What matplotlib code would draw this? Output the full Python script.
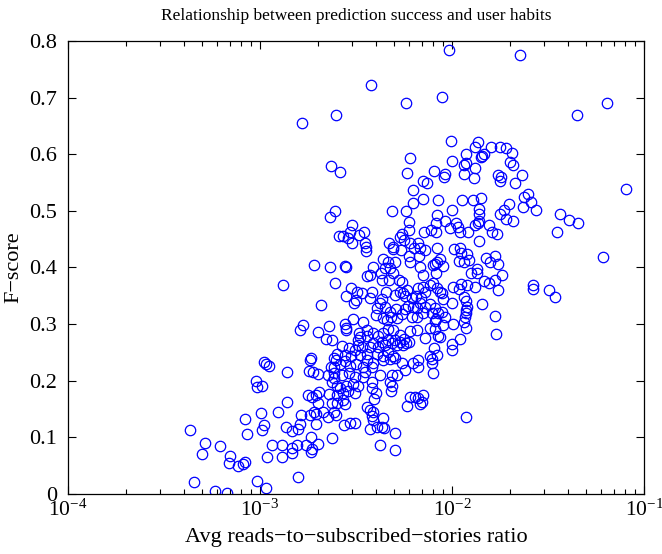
import matplotlib
matplotlib.use("Agg")
import matplotlib.pyplot as plt
from matplotlib.ticker import LogLocator, NullFormatter

plt.rcParams['font.family'] = ['Liberation Serif', 'DejaVu Serif']
plt.rcParams['mathtext.fontset'] = 'stix'

# avg reads-to-subscribed-stories ratio (x) and F-score (y)
ratio_low = [4.31e-4, 5.15e-4, 6.21e-4, 4.99e-4, 7.00e-4, 6.87e-4, 7.68e-4, 4.53e-4, 5.81e-4, 6.73e-4,
             1.66e-3, 2.49e-3, 2.35e-3, 2.61e-3, 2.46e-3, 2.32e-3, 2.59e-3]
fscore_low = [0.113, 0.090, 0.084, 0.071, 0.067, 0.055, 0.050, 0.022, 0.005, 0.001,
              0.655, 0.670, 0.580, 0.569, 0.499, 0.489, 0.456]

ratio_mid = [1.91e-3, 2.31e-3, 1.31e-3, 2.47e-3, 2.08e-3, 1.68e-3, 1.61e-3, 2.00e-3, 2.30e-3, 2.20e-3,
             1.05e-3, 1.11e-3, 1.07e-3, 1.38e-3, 1.85e-3, 1.82e-3, 1.81e-3, 1.89e-3, 2.00e-3, 2.27e-3,
             2.42e-3, 2.49e-3, 2.44e-3, 9.55e-4, 9.60e-4, 1.03e-3, 1.39e-3, 1.78e-3, 1.87e-3, 1.96e-3,
             2.04e-3, 2.00e-3, 1.91e-3, 2.29e-3, 2.36e-3, 2.51e-3, 2.14e-3, 2.27e-3, 2.49e-3, 1.01e-3,
             1.24e-3, 8.34e-4, 1.05e-3, 1.02e-3, 8.60e-4, 1.36e-3, 1.47e-3, 1.58e-3, 1.62e-3, 1.64e-3,
             1.83e-3, 1.95e-3, 1.96e-3, 2.38e-3, 1.84e-3, 1.16e-3, 1.30e-3, 1.47e-3, 1.56e-3, 1.73e-3,
             1.85e-3, 1.87e-3, 2.00e-3, 1.09e-3, 1.30e-3, 1.47e-3, 8.20e-4, 8.40e-4, 9.70e-4, 1.07e-3,
             1.57e-3]
fscore_mid = [0.405, 0.400, 0.369, 0.372, 0.333, 0.298, 0.289, 0.286, 0.296, 0.273,
              0.233, 0.226, 0.230, 0.216, 0.240, 0.236, 0.217, 0.216, 0.212, 0.210,
              0.225, 0.237, 0.204, 0.200, 0.189, 0.190, 0.163, 0.174, 0.172, 0.175,
              0.181, 0.160, 0.145, 0.177, 0.160, 0.175, 0.145, 0.136, 0.140, 0.143,
              0.144, 0.132, 0.121, 0.113, 0.106, 0.119, 0.112, 0.114, 0.124, 0.140,
              0.139, 0.124, 0.141, 0.0995, 0.101, 0.0866, 0.086, 0.0807, 0.0866, 0.0866,
              0.0747, 0.079, 0.0883, 0.0648, 0.0654, 0.073, 0.053, 0.0565, 0.0224, 0.010,
              0.030]

ratio_upper = [3.78e-3, 5.76e-3, 8.87e-3, 6.07e-3, 5.80e-3, 8.09e-3, 7.08e-3, 7.40e-3, 6.26e-3, 8.50e-3,
               6.28e-3, 7.10e-3, 4.89e-3, 5.73e-3, 6.00e-3, 5.98e-3, 8.40e-3, 3.00e-3, 2.95e-3, 2.72e-3,
               2.87e-3, 3.00e-3, 3.26e-3, 3.50e-3, 3.52e-3, 3.58e-3, 3.56e-3, 4.68e-3, 4.95e-3, 5.47e-3,
               5.38e-3, 5.64e-3, 6.04e-3, 6.33e-3, 6.65e-3, 6.80e-3, 7.20e-3, 5.42e-3, 4.95e-3, 7.12e-3,
               7.80e-3, 8.27e-3, 8.35e-3, 6.00e-3, 6.70e-3, 4.39e-3, 4.67e-3, 5.05e-3, 2.82e-3, 3.88e-3,
               4.48e-3, 6.04e-3, 8.00e-3, 8.35e-3, 6.80e-3]
fscore_upper = [0.723, 0.690, 0.701, 0.594, 0.567, 0.571, 0.553, 0.550, 0.537, 0.519,
                0.514, 0.521, 0.499, 0.500, 0.481, 0.466, 0.493, 0.475, 0.463, 0.456,
                0.452, 0.444, 0.458, 0.463, 0.443, 0.436, 0.429, 0.444, 0.436, 0.460,
                0.454, 0.448, 0.444, 0.435, 0.444, 0.434, 0.431, 0.431, 0.432, 0.463,
                0.467, 0.462, 0.435, 0.420, 0.420, 0.415, 0.409, 0.409, 0.401, 0.401,
                0.399, 0.410, 0.405, 0.410, 0.400]

ratio_high = [9.63e-3, 2.27e-2, 9.90e-3, 9.15e-3, 9.10e-3, 1.00e-2, 1.18e-2, 1.16e-2, 1.19e-2, 1.16e-2,
              1.31e-2, 1.30e-2, 1.32e-2, 1.37e-2, 1.44e-2, 1.47e-2, 1.41e-2, 1.60e-2, 1.78e-2, 1.90e-2,
              2.05e-2, 2.00e-2, 2.09e-2, 1.73e-2, 1.79e-2, 1.78e-2, 2.32e-2, 2.12e-2, 1.13e-2, 1.28e-2,
              1.41e-2, 1.00e-2, 1.38e-2, 1.38e-2, 1.36e-2, 1.99e-2, 2.36e-2, 2.49e-2, 2.58e-2, 2.35e-2,
              2.73e-2, 1.78e-2, 1.86e-2, 1.91e-2, 2.09e-2, 8.27e-3, 9.20e-3, 1.05e-2, 1.08e-2, 9.80e-3,
              1.10e-2, 1.21e-2, 1.32e-2, 1.38e-2, 1.56e-2, 1.61e-2, 1.71e-2, 1.38e-2, 1.02e-2, 1.10e-2,
              1.11e-2, 1.20e-2, 1.23e-2, 1.09e-2, 1.15e-2, 1.51e-2, 1.67e-2, 1.73e-2, 1.57e-2, 8.67e-3,
              8.15e-3, 9.00e-3, 1.35e-2,
              1.26e-2, 1.35e-2, 1.01e-2, 1.11e-2, 1.09e-2, 1.20e-2, 1.32e-2, 1.47e-2, 1.56e-2, 1.67e-2,
              1.82e-2, 1.73e-2, 8.67e-3, 8.90e-3, 8.95e-3, 9.95e-3, 1.15e-2, 1.19e-2, 1.20e-2, 1.18e-2,
              1.44e-2, 1.67e-2, 1.70e-2, 2.65e-2, 2.63e-2, 8.90e-3, 9.20e-3, 8.15e-3, 8.95e-3, 1.01e-2,
              1.15e-2, 1.17e-2, 1.19e-2, 1.18e-2, 8.15e-3, 8.67e-3, 1.10e-2, 9.95e-3, 9.95e-3, 8.08e-3,
              7.90e-3, 1.18e-2,
              6.38e-2, 4.48e-2, 8.05e-2, 3.64e-2, 4.08e-2, 4.55e-2, 3.52e-2, 6.10e-2, 3.20e-2, 3.42e-2]
fscore_high = [0.784, 0.776, 0.624, 0.566, 0.559, 0.588, 0.601, 0.581, 0.584, 0.566,
               0.575, 0.558, 0.613, 0.621, 0.597, 0.600, 0.595, 0.612, 0.613, 0.611,
               0.602, 0.587, 0.581, 0.564, 0.559, 0.552, 0.564, 0.549, 0.519, 0.519,
               0.522, 0.502, 0.503, 0.494, 0.479, 0.513, 0.525, 0.530, 0.515, 0.506,
               0.501, 0.495, 0.501, 0.485, 0.482, 0.478, 0.482, 0.479, 0.472, 0.469,
               0.462, 0.462, 0.475, 0.482, 0.475, 0.463, 0.459, 0.446, 0.432, 0.435,
               0.426, 0.423, 0.413, 0.412, 0.410, 0.417, 0.420, 0.407, 0.409, 0.415,
               0.407, 0.403, 0.397,
               0.391, 0.391, 0.365, 0.371, 0.362, 0.369, 0.365, 0.377, 0.373, 0.378,
               0.387, 0.360, 0.357, 0.355, 0.344, 0.338, 0.348, 0.340, 0.331, 0.325,
               0.336, 0.314, 0.283, 0.369, 0.362, 0.322, 0.312, 0.306, 0.299, 0.300,
               0.304, 0.312, 0.320, 0.293, 0.291, 0.277, 0.273, 0.265, 0.254, 0.257,
               0.238, 0.136,
               0.691, 0.669, 0.539, 0.494, 0.484, 0.478, 0.462, 0.418, 0.361, 0.348]

ratio_dense = [2.76e-3, 3.60e-3, 3.72e-3, 4.25e-3, 4.76e-3, 4.95e-3, 4.30e-3, 4.72e-3, 5.27e-3, 5.49e-3,
               7.09e-3, 8.27e-3, 7.99e-3, 2.98e-3, 2.81e-3, 3.20e-3, 3.40e-3, 3.09e-3, 3.17e-3, 3.72e-3,
               3.82e-3, 4.30e-3, 4.53e-3, 4.22e-3, 5.05e-3, 5.38e-3, 5.56e-3, 5.70e-3, 6.16e-3, 5.81e-3,
               6.67e-3, 7.03e-3, 7.24e-3, 7.69e-3, 8.34e-3, 6.86e-3, 6.50e-3, 4.06e-3, 4.48e-3, 4.76e-3,
               5.12e-3, 4.80e-3, 5.16e-3, 5.49e-3, 5.70e-3, 5.92e-3, 6.24e-3, 6.60e-3, 6.80e-3, 7.24e-3,
               7.69e-3, 8.16e-3, 8.50e-3, 8.27e-3, 7.84e-3, 7.03e-3, 6.60e-3, 6.16e-3, 4.39e-3, 4.57e-3,
               4.03e-3, 2.76e-3, 2.81e-3, 2.79e-3, 3.06e-3, 3.46e-3, 3.63e-3, 3.27e-3, 3.30e-3, 3.23e-3,
               3.60e-3, 3.87e-3, 4.14e-3, 4.39e-3, 4.67e-3, 4.95e-3, 5.38e-3, 5.60e-3, 6.04e-3, 6.60e-3,
               7.24e-3, 7.69e-3, 8.50e-3, 2.36e-3, 2.66e-3, 2.91e-3, 3.13e-3, 3.23e-3, 3.40e-3, 3.75e-3,
               3.90e-3, 4.14e-3, 4.30e-3, 4.48e-3, 4.67e-3, 4.85e-3, 5.05e-3, 5.16e-3, 5.38e-3, 5.56e-3,
               5.77e-3, 5.99e-3, 4.67e-3, 4.95e-3, 4.39e-3, 4.06e-3, 3.60e-3, 3.33e-3, 2.98e-3, 2.76e-3,
               2.51e-3, 2.42e-3, 6.67e-3, 7.69e-3, 8.34e-3, 2.33e-3, 2.61e-3, 2.76e-3, 2.94e-3, 3.17e-3,
               3.46e-3, 3.63e-3, 3.82e-3, 3.53e-3, 3.46e-3, 3.90e-3, 4.39e-3, 4.76e-3, 5.05e-3, 5.49e-3,
               6.29e-3, 5.70e-3, 6.67e-3, 7.84e-3, 7.99e-3, 4.22e-3, 4.85e-3, 5.16e-3, 2.42e-3, 2.66e-3,
               3.13e-3, 2.91e-3, 2.37e-3, 2.53e-3, 2.61e-3, 2.79e-3, 3.06e-3, 3.23e-3, 2.86e-3, 3.13e-3,
               2.69e-3, 3.82e-3, 3.82e-3, 4.03e-3, 3.93e-3, 4.76e-3, 4.85e-3, 4.80e-3, 6.04e-3, 6.42e-3,
               6.67e-3, 6.94e-3, 7.09e-3, 5.81e-3, 6.80e-3, 2.51e-3, 2.76e-3, 2.71e-3, 2.42e-3, 2.73e-3,
               2.94e-3, 3.13e-3, 3.60e-3, 3.72e-3, 3.87e-3, 3.82e-3, 3.90e-3, 4.36e-3, 4.06e-3, 4.30e-3,
               4.42e-3, 3.75e-3, 5.05e-3, 4.22e-3, 5.05e-3]
fscore_dense = [0.402, 0.385, 0.387, 0.390, 0.399, 0.390, 0.378, 0.378, 0.378, 0.375,
                0.387, 0.391, 0.373, 0.363, 0.350, 0.356, 0.355, 0.338, 0.342, 0.347,
                0.357, 0.344, 0.357, 0.337, 0.352, 0.357, 0.355, 0.350, 0.346, 0.360,
                0.363, 0.366, 0.357, 0.369, 0.363, 0.346, 0.350, 0.328, 0.331, 0.322,
                0.326, 0.313, 0.310, 0.318, 0.326, 0.332, 0.331, 0.328, 0.337, 0.331,
                0.336, 0.328, 0.319, 0.309, 0.319, 0.319, 0.312, 0.313, 0.310, 0.307,
                0.316, 0.301, 0.293, 0.289, 0.309, 0.304, 0.290, 0.285, 0.277, 0.272,
                0.279, 0.285, 0.279, 0.285, 0.291, 0.289, 0.281, 0.273, 0.287, 0.289,
                0.275, 0.293, 0.279, 0.272, 0.261, 0.257, 0.254, 0.263, 0.259, 0.259,
                0.266, 0.260, 0.269, 0.263, 0.272, 0.266, 0.272, 0.263, 0.269, 0.263,
                0.267, 0.269, 0.251, 0.243, 0.244, 0.247, 0.247, 0.246, 0.243, 0.246,
                0.248, 0.240, 0.237, 0.244, 0.246, 0.225, 0.230, 0.234, 0.226, 0.230,
                0.225, 0.237, 0.224, 0.216, 0.207, 0.231, 0.237, 0.238, 0.240, 0.231,
                0.231, 0.219, 0.224, 0.231, 0.213, 0.210, 0.210, 0.210, 0.213, 0.210,
                0.206, 0.213, 0.197, 0.191, 0.187, 0.190, 0.194, 0.191, 0.182, 0.178,
                0.179, 0.197, 0.187, 0.178, 0.167, 0.197, 0.191, 0.182, 0.172, 0.172,
                0.169, 0.163, 0.175, 0.155, 0.159, 0.160, 0.159, 0.166, 0.145, 0.122,
                0.125, 0.125, 0.154, 0.148, 0.145, 0.137, 0.131, 0.134, 0.119, 0.118,
                0.116, 0.114, 0.108, 0.087, 0.078]

ratio = ratio_low + ratio_mid + ratio_upper + ratio_high + ratio_dense
fscore = fscore_low + fscore_mid + fscore_upper + fscore_high + fscore_dense

fig = plt.figure(figsize=(6.62, 5.54), dpi=100)
ax = fig.add_axes([0.1027, 0.1083, 0.8701, 0.8177])

ax.semilogx(ratio, fscore, 'o', markerfacecolor='none', markeredgecolor='#0000ff',
            markersize=7.5, markeredgewidth=0.9)

ax.set_xlim(1e-4, 1e-1)
ax.set_ylim(0, 0.8)
ax.set_yticks([0, 0.1, 0.2, 0.3, 0.4, 0.5, 0.6, 0.7, 0.8])
ax.set_yticklabels(['0', '0.1', '0.2', '0.3', '0.4', '0.5', '0.6', '0.7', '0.8'])
ax.xaxis.set_major_locator(LogLocator(base=10, numticks=10))
ax.xaxis.set_minor_locator(LogLocator(base=10, subs=range(2, 10), numticks=20))
ax.xaxis.set_minor_formatter(NullFormatter())

ax.tick_params(which='both', direction='in', top=True, right=True)
ax.tick_params(axis='y', pad=8, labelsize=16)
ax.tick_params(axis='x', pad=4, labelsize=15.5)
ax.tick_params(which='major', length=6, width=0.8)
ax.tick_params(which='minor', length=3.5, width=0.8)
for s in ax.spines.values():
    s.set_linewidth(0.9)

ax.set_title('Relationship between prediction success and user habits', fontsize=12.5, pad=15)
ax.set_xlabel('Avg reads\u2212to\u2212subscribed\u2212stories ratio', fontsize=16, labelpad=5)
ax.set_ylabel('F\u2212score', fontsize=16, labelpad=4)

fig.savefig('out.png', dpi=100)
